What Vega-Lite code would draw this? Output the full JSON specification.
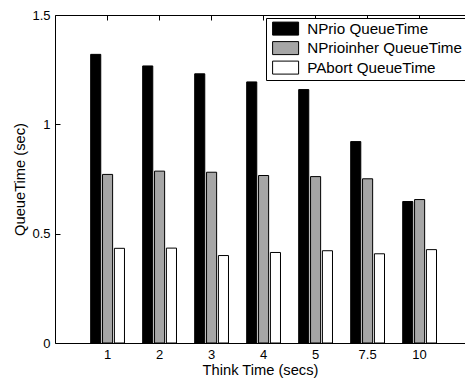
{
  "$schema": "https://vega.github.io/schema/vega-lite/v6.json",
  "width": 410,
  "height": 328,
  "autosize": {"type": "none"},
  "padding": {"left": 55, "top": 15, "right": 0, "bottom": 36},
  "background": "white",
  "config": {
    "view": {"stroke": null},
    "font": "Liberation Sans",
    "legend": {"labelFontSize": 15.2, "labelFont": "Liberation Sans"},
    "axis": {
      "grid": false,
      "domainColor": "black",
      "tickColor": "black",
      "labelColor": "black",
      "titleColor": "black",
      "labelFont": "Liberation Sans",
      "titleFont": "Liberation Sans",
      "labelFontSize": 13,
      "titleFontSize": 14.7,
      "titleFontWeight": "normal",
      "domainWidth": 1,
      "tickWidth": 1
    }
  },
  "data": {
    "values": [
      {"think": "1", "series": "NPrio QueueTime", "time": 1.32},
      {"think": "1", "series": "NPrioinher QueueTime", "time": 0.771},
      {"think": "1", "series": "PAbort QueueTime", "time": 0.433},
      {"think": "2", "series": "NPrio QueueTime", "time": 1.267},
      {"think": "2", "series": "NPrioinher QueueTime", "time": 0.786},
      {"think": "2", "series": "PAbort QueueTime", "time": 0.434},
      {"think": "3", "series": "NPrio QueueTime", "time": 1.231},
      {"think": "3", "series": "NPrioinher QueueTime", "time": 0.781},
      {"think": "3", "series": "PAbort QueueTime", "time": 0.4},
      {"think": "4", "series": "NPrio QueueTime", "time": 1.194},
      {"think": "4", "series": "NPrioinher QueueTime", "time": 0.766},
      {"think": "4", "series": "PAbort QueueTime", "time": 0.414},
      {"think": "5", "series": "NPrio QueueTime", "time": 1.159},
      {"think": "5", "series": "NPrioinher QueueTime", "time": 0.761},
      {"think": "5", "series": "PAbort QueueTime", "time": 0.422},
      {"think": "7.5", "series": "NPrio QueueTime", "time": 0.921},
      {"think": "7.5", "series": "NPrioinher QueueTime", "time": 0.751},
      {"think": "7.5", "series": "PAbort QueueTime", "time": 0.408},
      {"think": "10", "series": "NPrio QueueTime", "time": 0.647},
      {"think": "10", "series": "NPrioinher QueueTime", "time": 0.656},
      {"think": "10", "series": "PAbort QueueTime", "time": 0.427}
    ]
  },
  "layer": [
    {
      "mark": {"type": "bar", "stroke": "black", "strokeWidth": 1},
      "encoding": {
        "x": {
          "field": "think",
          "type": "ordinal",
          "sort": ["1", "2", "3", "4", "5", "7.5", "10"],
          "scale": {"paddingInner": 0.35, "paddingOuter": 0.617, "align": 0.556},
          "axis": {"title": "Think Time (secs)", "labelAngle": 0, "tickSize": -5, "labelPadding": 10, "titlePadding": 1}
        },
        "xOffset": {
          "field": "series",
          "type": "nominal",
          "sort": ["NPrio QueueTime", "NPrioinher QueueTime", "PAbort QueueTime"],
          "scale": {"paddingInner": 0.15}
        },
        "y": {
          "field": "time",
          "type": "quantitative",
          "scale": {"domain": [0, 1.5], "nice": false},
          "axis": {"title": "QueueTime (sec)", "values": [0, 0.5, 1, 1.5], "tickSize": -5, "labelPadding": 10, "labelExpr": "'' + datum.value"}
        },
        "fill": {
          "field": "series",
          "type": "nominal",
          "sort": ["NPrio QueueTime", "NPrioinher QueueTime", "PAbort QueueTime"],
          "scale": {
            "domain": ["NPrio QueueTime", "NPrioinher QueueTime", "PAbort QueueTime"],
            "range": ["#000000", "#a6a6a6", "#ffffff"]
          },
          "legend": {
            "title": null,
            "orient": "none",
            "legendX": 211,
            "legendY": 3,
            "symbolType": "M-2,-1H2V1H-2Z",
            "symbolSize": 169,
            "symbolOffset": 9,
            "symbolStrokeColor": "black",
            "symbolStrokeWidth": 1,
            "labelFontSize": 15.2,
            "labelColor": "black",
            "labelExpr": "datum.label + '          '",
            "strokeColor": "black",
            "fillColor": "white",
            "padding": 3,
            "rowPadding": 1.5,
            "labelOffset": 14,
            "labelLimit": 400
          }
        }
      }
    },
    {
      "mark": {"type": "bar", "opacity": 0},
      "encoding": {
        "x": {
          "field": "think",
          "type": "ordinal",
          "sort": ["1", "2", "3", "4", "5", "7.5", "10"],
          "axis": {"orient": "top", "labels": false, "title": null, "tickSize": -5}
        }
      }
    }
  ],
  "resolve": {"axis": {"x": "independent"}}
}
